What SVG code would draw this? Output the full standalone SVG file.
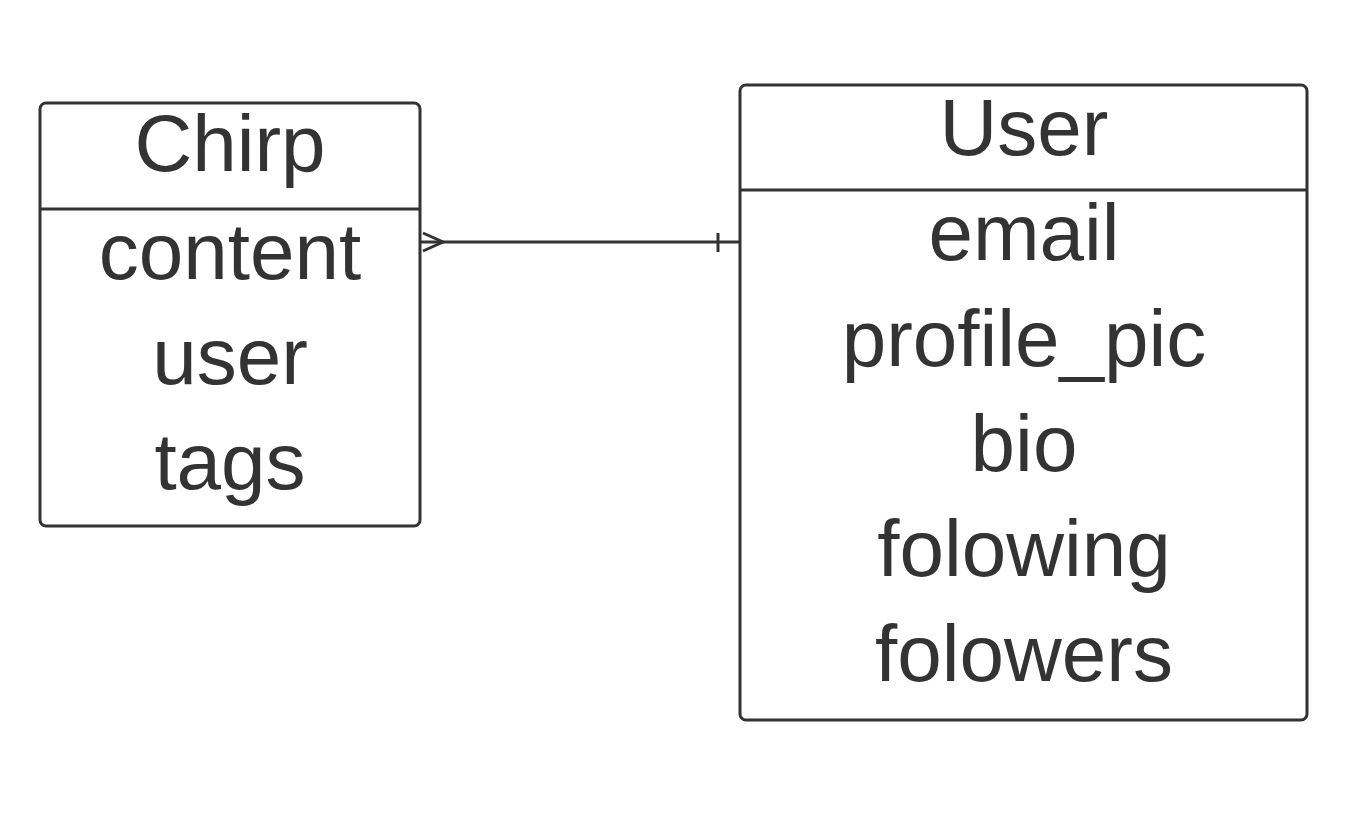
<svg xmlns="http://www.w3.org/2000/svg" width="1353" height="822" viewBox="0 0 1353 822">
<style>
.box{fill:#ffffff;stroke:#333333;stroke-width:3}
.div{stroke:#333333;stroke-width:3}
.t{font-family:"Liberation Sans",Arial,sans-serif;font-size:80px;fill:#333333;text-anchor:middle}
.c{fill:none;stroke:#333333;stroke-width:3}
</style>
<rect width="1353" height="822" fill="#ffffff"/>
<g id="chirp">
<rect class="box" x="40" y="103" width="380" height="423" rx="6"/>
<line class="div" x1="40" y1="209" x2="420" y2="209"/>
<text class="t" x="230" y="171">Chirp</text>
<text class="t" x="230" y="279">content</text>
<text class="t" x="230" y="384">user</text>
<text class="t" x="230" y="489">tags</text>
</g>
<g id="user">
<rect class="box" x="740" y="85" width="567" height="635" rx="6"/>
<line class="div" x1="740" y1="190" x2="1307" y2="190"/>
<text class="t" x="1024" y="155">User</text>
<text class="t" x="1024" y="260">email</text>
<text class="t" x="1024" y="366">profile_pic</text>
<text class="t" x="1024" y="471">bio</text>
<text class="t" x="1024" y="576">folowing</text>
<text class="t" x="1024" y="681">folowers</text>
</g>
<g id="connectors">
<line class="c" x1="421" y1="242" x2="739" y2="242"/>
<polyline class="c" points="423,233 443,242 423,251"/>
<line class="c" x1="718" y1="233" x2="718" y2="252"/>
</g>
</svg>
